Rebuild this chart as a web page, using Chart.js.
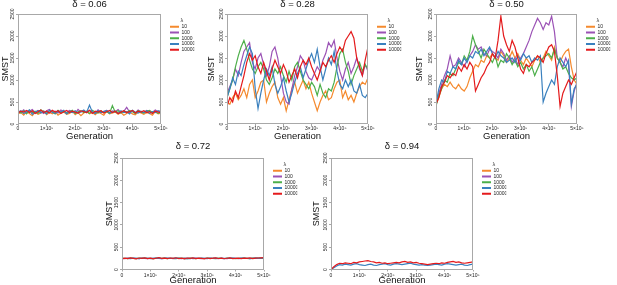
<!DOCTYPE html>
<html>
<head>
<meta charset="utf-8">
<script src="https://cdn.jsdelivr.net/npm/chart.js@4.4.1/dist/chart.umd.min.js"></script>
<style>
  html, body { margin: 0; padding: 0; background: #fff; }
  #wrap { position: relative; width: 617px; height: 285px; overflow: hidden; background: #fff; }
  #wrap canvas { position: absolute; }
</style>
</head>
<body>
<div id="wrap">
  <canvas id="c006" width="205" height="145" style="left:0px;top:0px"></canvas>
  <canvas id="c028" width="205" height="145" style="left:205px;top:0px"></canvas>
  <canvas id="c050" width="207" height="145" style="left:410px;top:0px"></canvas>
  <canvas id="c072" width="205" height="145" style="left:100px;top:140px"></canvas>
  <canvas id="c094" width="212" height="145" style="left:305px;top:140px"></canvas>
</div>
<script>
const generations = [
   0, 10000, 20000, 30000, 40000, 50000, 60000, 70000, 80000, 90000,
   100000, 110000, 120000, 130000, 140000, 150000, 160000, 170000, 180000, 190000,
   200000, 210000, 220000, 230000, 240000, 250000, 260000, 270000, 280000, 290000,
   300000, 310000, 320000, 330000, 340000, 350000, 360000, 370000, 380000, 390000,
   400000, 410000, 420000, 430000, 440000, 450000, 460000, 470000, 480000, 490000,
   500000,
];
const genTickLabels = ["0", "1×10⁵", "2×10⁵", "3×10⁵", "4×10⁵", "5×10⁵"];
const lambdaLabels = ["10", "100", "1000", "10000", "100000"];
const lambdaColors = ["#F58A2E", "#9B52B5", "#4DAF4A", "#3A80BE", "#E41A1C"];

// delta = 0.06
const d006_l10 = [
   230, 260, 200, 280, 240, 190, 270, 220, 250, 300,
   210, 260, 230, 280, 200, 250, 270, 220, 240, 290,
   210, 260, 190, 250, 280, 230, 260, 210, 270, 240,
   200, 290, 230, 250, 270, 220, 260, 200, 240, 280,
   230, 210, 270, 250, 220, 260, 240, 200, 280, 230,
   250,
];
const d006_l100 = [
   300, 270, 320, 250, 290, 330, 260, 310, 280, 240,
   300, 330, 270, 290, 250, 320, 280, 260, 310, 290,
   240, 330, 270, 300, 260, 310, 280, 250, 320, 270,
   290, 310, 250, 300, 280, 330, 260, 290, 380, 270,
   300, 250, 320, 280, 260, 310, 290, 270, 320, 280,
   300,
];
const d006_l1000 = [
   280, 250, 300, 230, 310, 260, 290, 240, 320, 270,
   250, 300, 280, 230, 310, 260, 290, 250, 270, 310,
   240, 280, 300, 260, 290, 240, 310, 270, 250, 300,
   260, 280, 240, 420, 270, 300, 250, 290, 260, 310,
   280, 240, 300, 270, 250, 290, 310, 260, 280, 240,
   270,
];
const d006_l10000 = [
   260, 300, 240, 280, 320, 220, 270, 300, 250, 290,
   230, 310, 260, 240, 290, 270, 310, 230, 280, 260,
   300, 250, 280, 320, 260, 430, 270, 240, 300, 260,
   280, 310, 250, 270, 290, 240, 300, 260, 280, 230,
   310, 270, 250, 290, 260, 300, 240, 280, 260, 300,
   270,
];
const d006_l100000 = [
   250, 290, 270, 310, 260, 300, 240, 280, 320, 260,
   290, 250, 310, 270, 300, 240, 280, 310, 260, 290,
   270, 250, 300, 280, 260, 310, 240, 290, 270, 300,
   250, 280, 310, 260, 290, 240, 270, 300, 260, 280,
   310, 250, 290, 270, 300, 260, 280, 240, 290, 270,
   260,
];

// delta = 0.28
const d028_l10 = [
   500, 450, 600, 700, 550, 650, 800, 600, 900, 1000,
   600, 750, 950, 1000, 500, 700, 850, 950, 600, 450,
   600, 300, 550, 800, 950, 700, 850, 1000, 800, 950,
   700, 500, 300, 500, 650, 750, 550, 600, 800, 950,
   1000, 600, 750, 550, 650, 500, 700, 850, 950, 900,
   1050,
];
const d028_l100 = [
   700, 850, 1000, 1250, 1100, 1400, 1650, 1750, 1850, 1400,
   1250, 1500, 1600, 1350, 1100, 1300, 1650, 1750, 1500, 1100,
   700, 500, 450, 800, 1100, 1300, 1550, 1450, 1200, 1050,
   1000, 1150, 1300, 1200, 1450, 1600, 1850, 1750, 1900, 1500,
   1200, 1000, 1250, 1400, 1150, 1300, 1500, 1250, 1100, 1350,
   1200,
];
const d028_l1000 = [
   600, 800, 1000, 1300, 1550, 1750, 1900, 1700, 1450, 1250,
   1150, 1300, 1400, 1250, 1000, 900, 1050, 1250, 1150, 1300,
   1100, 950, 1200, 1000, 1300, 1400, 1200, 1000, 900, 800,
   950, 850, 650, 900, 700, 600, 800, 750, 950, 1300,
   1600, 1700, 1400, 1200, 900, 1100, 1250, 1400, 1200, 1350,
   1250,
];
const d028_l10000 = [
   600, 800, 1050, 900, 1200, 1100, 1350, 1550, 1750, 1600,
   800, 350, 700, 1000, 1250, 1100, 1300, 900, 700, 850,
   1050, 750, 500, 700, 950, 1150, 1300, 1050, 1250, 1450,
   1600, 1400, 1700, 1300, 1000, 1250, 1500, 1350, 1650, 1200,
   900, 800, 1000, 850, 1000, 750, 700, 900, 650, 600,
   700,
];
const d028_l100000 = [
   400, 600, 500, 750, 600, 850, 1100, 1400, 1600, 1450,
   1550, 1300, 1150, 1400, 1200, 1000, 1250, 1450, 1300, 1150,
   1350, 1200, 950, 1100, 1250, 1050, 1300, 1450, 1350, 1500,
   1300, 1150, 1000, 1200, 1400, 1300, 1450, 1550, 1400, 1600,
   1750, 1650, 1900, 2000, 2100, 1950, 1500, 1300, 1100, 1450,
   1750,
];

// delta = 0.50
const d050_l10 = [
   450, 600, 800, 900, 850, 950, 850, 800, 900, 800,
   750, 850, 1050, 1200, 1350, 1300, 1450, 1400, 1550, 1500,
   1600, 1500, 1450, 1650, 1550, 1400, 1500, 1650, 1500, 1600,
   1450, 1350, 1500, 1400, 1300, 1450, 1550, 1400, 1500, 1650,
   1550, 1450, 1750, 1500, 1400, 1550, 1650, 1700, 1300, 1000,
   900,
];
const d050_l100 = [
   450, 700, 900, 1100, 1250, 1550, 1300, 1350, 1500, 1400,
   1300, 1450, 1550, 1650, 1800, 1700, 1750, 1600, 1550, 1700,
   1650, 1600, 1500, 1700, 1600, 1450, 1550, 1400, 1500, 1350,
   1500, 1600, 1750, 1900, 2100, 2250, 2400, 2300, 2150, 2300,
   2250, 2450, 2100, 1500, 1400, 1300, 1500, 1350, 400, 750,
   950,
];
const d050_l1000 = [
   400, 650, 800, 1000, 950, 1150, 1100, 1250, 1400, 1350,
   1550, 1450, 1650, 2000, 1800, 1650, 1500, 1700, 1600, 1500,
   1400, 1550, 1300, 1450, 1400, 1600, 1500, 1350, 1450, 1300,
   1400, 1250, 1350, 1200, 1300, 1100, 1250, 1400, 1500, 1550,
   1600, 1500, 1700, 1500, 1400, 1250, 1300, 1150, 1050, 1000,
   1050,
];
const d050_l10000 = [
   450, 800, 1000, 950, 1200, 1150, 1300, 1250, 1450, 1350,
   1500, 1400, 1550, 1500, 1650, 1600, 1700, 1550, 1650, 1750,
   1600, 1500, 1650, 1550, 1500, 1400, 1450, 1500, 1400, 1550,
   1450, 1600, 1500, 1550, 1400, 1500, 1450, 1550, 500, 700,
   850, 1000, 900, 1300, 1500, 1400, 1300, 1450, 450, 800,
   900,
];
const d050_l100000 = [
   450, 600, 850, 950, 1100, 1050, 1150, 1100, 1300, 1200,
   1350, 1250, 1400, 1300, 750, 900, 1050, 1150, 1300, 1400,
   1600, 1500, 1900, 2450, 2000, 1800, 1650, 1900, 1750, 1500,
   1250, 1150, 1350, 1300, 1400, 1450, 1550, 1500, 1400, 1600,
   1750, 1800, 1650, 1100, 400, 700, 850, 1000, 900, 1050,
   1200,
];

// delta = 0.72
const d072_l10 = [
   0, 0, 0, 0, 0, 0, 0, 0, 0, 0,
   0, 0, 0, 0, 0, 0, 0, 0, 0, 0,
   0, 0, 0, 0, 0, 0, 0, 0, 0, 0,
   0, 0, 0, 0, 0, 0, 0, 0, 0, 0,
   0, 0, 0, 0, 0, 0, 0, 0, 0, 0,
   0,
];
const d072_l100 = [
   250, 245, 255, 250, 248, 252, 246, 255, 250, 244,
   252, 248, 256, 250, 245, 253, 249, 255, 246, 251,
   250, 244, 254, 248, 252, 246, 255, 250, 243, 252,
   249, 255, 247, 251, 245, 253, 250, 246, 254, 249,
   252, 245, 250, 255, 247, 251, 248, 253, 250, 255,
   258,
];
const d072_l1000 = [
   248, 252, 246, 255, 250, 244, 253, 249, 256, 247,
   251, 245, 254, 250, 248, 255, 246, 252, 250, 244,
   253, 248, 251, 246, 255, 249, 245, 252, 250, 247,
   254, 248, 251, 245, 253, 250, 247, 255, 249, 252,
   246, 251, 248, 254, 250, 246, 253, 249, 255, 252,
   256,
];
const d072_l10000 = [
   252, 247, 250, 244, 255, 250, 246, 252, 248, 255,
   245, 251, 249, 254, 246, 250, 253, 247, 251, 255,
   248, 252, 246, 250, 244, 253, 251, 247, 255, 250,
   246, 252, 249, 254, 247, 250, 245, 252, 248, 253,
   250, 247, 254, 249, 252, 245, 250, 256, 248, 253,
   257,
];
const d072_l100000 = [
   240, 255, 245, 260, 250, 240, 258, 248, 262, 245,
   255, 240, 252, 265, 248, 256, 242, 258, 250, 263,
   246, 254, 240, 257, 249, 261, 244, 255, 250, 240,
   258, 246, 253, 262, 247, 255, 241, 252, 259, 245,
   250, 256, 243, 254, 248, 260, 246, 253, 258, 262,
   265,
];

// delta = 0.94
const d094_l10 = [
   0, 0, 0, 0, 0, 0, 0, 0, 0, 0,
   0, 0, 0, 0, 0, 0, 0, 0, 0, 0,
   0, 0, 0, 0, 0, 0, 0, 0, 0, 0,
   0, 0, 0, 0, 0, 0, 0, 0, 0, 0,
   0, 0, 0, 0, 0, 0, 0, 0, 0, 0,
   0,
];
const d094_l100 = d094_l10;
const d094_l1000 = d094_l10;
const d094_l10000 = [
   0, 40, 80, 110, 100, 120, 110, 100, 120, 130,
   110, 100, 90, 110, 120, 100, 90, 110, 120, 130,
   110, 100, 120, 130, 120, 110, 120, 130, 140, 120,
   110, 100, 110, 100, 90, 100, 110, 120, 110, 100,
   120, 130, 120, 110, 100, 110, 120, 100, 90, 110,
   120,
];
const d094_l100000 = [
   0, 60, 110, 140, 130, 150, 140, 130, 160, 150,
   170, 180, 190, 200, 180, 170, 150, 160, 140, 150,
   130, 140, 150, 160, 150, 170, 180, 160, 170, 150,
   160, 140, 130, 120, 110, 120, 130, 140, 130, 150,
   140, 160, 170, 180, 160, 170, 150, 140, 150, 160,
   170,
];

Chart.defaults.font.family = '"Liberation Sans", Arial, sans-serif';
Chart.defaults.color = "#222";

const AXIS_GREY = "#a8a8a8";
const LEGEND_GAP = 8.25;
const LEGEND_W = 25;

// light grey frame round the plotting region
const panelBox = {
   id: "panelBox",
   afterDraw(chart) {
      const a = chart.chartArea;
      const ctx = chart.ctx;
      ctx.save();
      ctx.strokeStyle = AXIS_GREY;
      ctx.lineWidth = 1;
      ctx.strokeRect(Math.round(a.left) + 0.5, Math.round(a.top) + 0.5,
         Math.round(a.right - a.left) - 1, Math.round(a.bottom - a.top) - 1);
      ctx.restore();
   },
};

function drawPanel(id, title, series, box) {
   const canvas = document.getElementById(id);
   const W = canvas.width;
   const H = canvas.height;
   const padR = W - box.right - LEGEND_GAP - LEGEND_W;

   new Chart(canvas, {
      type: "line",
      data: {
         labels: generations,
         datasets: series.map((vals, i) => ({
            label: lambdaLabels[i],
            data: vals,
            borderColor: lambdaColors[i],
            backgroundColor: lambdaColors[i],
            borderWidth: 1.2,
            pointRadius: 0,
            tension: 0,
            order: series.length - 1 - i,
         })),
      },
      plugins: [panelBox],
      options: {
         responsive: false,
         animation: false,
         devicePixelRatio: 1,
         layout: { padding: { left: 0, right: padR, top: 0, bottom: 0 } },
         scales: {
            x: {
               type: "linear",
               min: 0,
               max: 500000,
               afterFit: (s) => { s.height = H - box.bottom; },
               ticks: {
                  stepSize: 100000,
                  autoSkip: false,
                  maxRotation: 0,
                  padding: box.tickPad,
                  color: "#222",
                  font: { size: 5 },
                  callback: (v) => genTickLabels[Math.round(v / 100000)],
               },
               grid: { drawOnChartArea: false, drawTicks: true, tickLength: 2, color: AXIS_GREY },
               border: { display: false },
               title: {
                  display: true,
                  text: "Generation",
                  color: "#111",
                  font: { size: 9.5, lineHeight: 1 },
                  padding: { top: 0, bottom: box.xTitleBottom },
               },
            },
            y: {
               type: "linear",
               min: 0,
               max: 2500,
               afterFit: (s) => { s.width = box.left; },
               ticks: {
                  stepSize: 500,
                  autoSkip: false,
                  minRotation: 90,
                  maxRotation: 90,
                  crossAlign: "center",
                  padding: -2.5,
                  color: "#222",
                  font: { size: 5 },
                  callback: (v) => String(v),
               },
               grid: { drawOnChartArea: false, drawTicks: true, tickLength: 2, color: AXIS_GREY },
               border: { display: false },
               title: {
                  display: true,
                  text: "SMST",
                  color: "#111",
                  font: { size: 9, lineHeight: 1 },
                  padding: { top: box.yTitle - 4.5, bottom: 0 },
               },
            },
            gap: {
               type: "linear",
               position: "right",
               afterFit: (s) => { s.width = LEGEND_GAP; },
               ticks: { display: false },
               grid: { display: false },
               border: { display: false },
            },
         },
         plugins: {
            tooltip: { enabled: false },
            title: {
               display: true,
               text: title,
               fullSize: false,
               color: "#111",
               font: { size: 9.5, weight: "normal", lineHeight: 1 },
               padding: { top: box.titleTop, bottom: box.top - 9.5 - box.titleTop },
            },
            legend: {
               position: "right",
               align: "start",
               fullSize: false,
               maxWidth: LEGEND_W,
               title: {
                  display: true,
                  text: "λ",
                  color: "#333",
                  font: { size: 5.5, lineHeight: 1 },
                  padding: { top: 3.25, bottom: 0.75 },
               },
               labels: {
                  usePointStyle: true,
                  pointStyle: "line",
                  pointStyleWidth: 9,
                  boxHeight: 5,
                  padding: 0.75,
                  color: "#222",
                  font: { size: 5 },
                  sort: (a, b) => a.datasetIndex - b.datasetIndex,
                  generateLabels: (chart) =>
                     Chart.defaults.plugins.legend.labels.generateLabels(chart).map((it) => ({ ...it, lineWidth: 2 })),
               },
            },
         },
      },
   });
}

drawPanel("c006", "δ = 0.06",
   [d006_l10, d006_l100, d006_l1000, d006_l10000, d006_l100000],
   { left: 18, top: 14, right: 161, bottom: 124, yTitle: 5.5, titleTop: 0, xTitleBottom: 4, tickPad: -0.5 });
drawPanel("c028", "δ = 0.28",
   [d028_l10, d028_l100, d028_l1000, d028_l10000, d028_l100000],
   { left: 22, top: 14, right: 163, bottom: 124, yTitle: 6.7, titleTop: 0, xTitleBottom: 4, tickPad: -0.5 });
drawPanel("c050", "δ = 0.50",
   [d050_l10, d050_l100, d050_l1000, d050_l10000, d050_l100000],
   { left: 26, top: 14, right: 167, bottom: 124, yTitle: 10, titleTop: 0, xTitleBottom: 4, tickPad: -0.5 });
drawPanel("c072", "δ = 0.72",
   [d072_l10, d072_l100, d072_l1000, d072_l10000, d072_l100000],
   { left: 22, top: 18, right: 164, bottom: 129.5, yTitle: 10, titleTop: 2, xTitleBottom: 0, tickPad: 1 });
drawPanel("c094", "δ = 0.94",
   [d094_l10, d094_l100, d094_l1000, d094_l10000, d094_l100000],
   { left: 26, top: 18, right: 168, bottom: 129.5, yTitle: 11.5, titleTop: 2, xTitleBottom: 0, tickPad: 1 });
</script>
</body>
</html>
